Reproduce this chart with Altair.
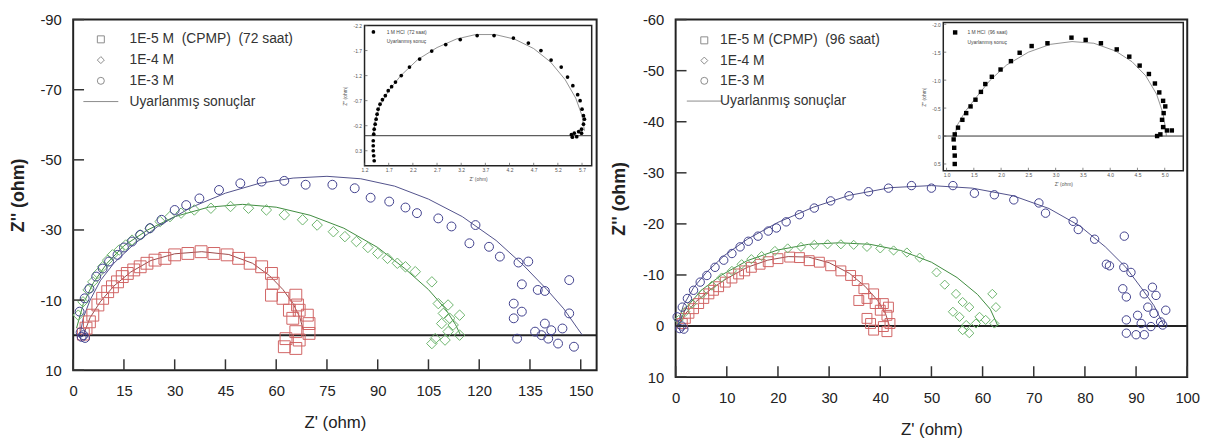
import altair as alt
import pandas as pd

FONT = "Liberation Sans"
INK = "#222222"
FIT_LABEL = "Uyarlanmış sonuçlar"
INSET_FIT_LABEL = "Uyarlanmış sonuç"

# ====================== LEFT PANEL (72 saat) ======================
L_LABELS = ["1E-5 M\u00a0 (CPMP)\u00a0 (72 saat)", "1E-4 M", "1E-3 M"]
L_X_TICKS = [0, 15, 30, 45, 60, 75, 90, 105, 120, 135, 150]
L_Y_TICKS = [-90, -70, -50, -30, -10, 10]

L_sq_x = [3.0, 3.8, 4.8, 5.8, 7.3, 8.7, 10.2, 11.6, 13.1, 14.5, 16.0, 17.9, 19.8, 21.8, 24.2, 27.1,
          30.0, 33.9, 37.8, 41.6, 45.5, 48.9, 52.3, 55.7, 58.6, 59.1, 58.6, 62.0, 65.8, 66.3, 66.8,
          69.2, 69.7, 69.7, 65.8, 62.9, 62.4, 65.8, 66.8, 64.9, 63.9]
L_sq_y = [-0.3, -2.0, -3.8, -5.7, -8.6, -10.5, -12.4, -13.8, -15.2, -16.7, -17.6, -18.6, -19.5, -20.5,
          -21.4, -21.9, -22.9, -23.3, -23.8, -23.3, -22.9, -21.9, -20.5, -19.5, -17.6, -14.8, -11.4,
          -10.5, -11.4, -8.6, -7.1, -5.7, -3.3, -0.5, -1.0, 1.0, 3.3, 3.8, 1.4, -4.8, -7.1]

L_dm_x = [1.5, 2.9, 4.4, 5.8, 7.3, 8.7, 10.2, 11.6, 13.6, 15.5, 17.4, 19.8, 22.7, 25.7, 28.6, 31.9,
          35.8, 40.7, 46.5, 51.8, 57.1, 62.4, 67.8, 72.1, 76.9, 80.3, 83.7, 87.1, 90.0, 92.9, 95.8,
          98.2, 101.1, 106.0, 107.9, 110.8, 109.4, 111.3, 114.2, 108.9, 112.3, 114.2, 107.0, 109.9,
          106.0, 110.8]
L_dm_y = [-5.7, -9.5, -12.9, -15.2, -17.6, -19.5, -21.4, -22.9, -24.3, -25.7, -27.1, -28.6, -30.5,
          -32.4, -33.8, -34.8, -35.7, -36.2, -36.7, -36.2, -35.7, -34.3, -32.9, -31.4, -29.5, -28.1,
          -26.7, -25.0, -23.3, -21.9, -20.5, -19.5, -18.1, -15.2, -9.0, -8.6, -6.2, -4.8, -5.7, -3.3,
          -2.9, 0.0, 1.0, 1.4, 2.4, -1.0]

L_ci_x = [2.5, 3.0, 3.5, 2.2, 1.9, 3.4, 4.8, 6.8, 8.7, 10.6, 13.1, 15.0, 17.4, 19.8, 22.7, 26.1, 30.0,
          33.4, 37.3, 43.1, 49.4, 55.7, 62.4, 68.7, 76.6, 83.2, 87.9, 93.4, 98.2, 101.6, 107.9, 111.8,
          118.9, 117.1, 122.9, 126.1, 131.6, 134.5, 132.6, 137.3, 139.4, 146.6, 130.2, 132.6, 130.2,
          146.6, 139.4, 144.6, 136.5, 131.2, 140.4, 143.3, 148.0, 141.3, 138.4]
L_ci_y = [0.5, 0.0, 0.8, -0.8, -6.7, -10.5, -13.3, -16.7, -19.0, -21.0, -22.9, -25.0, -26.7, -28.6,
          -30.5, -32.9, -35.7, -37.1, -39.0, -41.4, -43.3, -43.8, -44.0, -42.9, -42.9, -41.9, -39.2,
          -38.1, -36.4, -34.8, -33.3, -31.0, -31.4, -26.2, -25.2, -22.4, -20.7, -21.0, -14.5, -12.9,
          -12.6, -15.7, -9.0, -6.7, -4.8, -6.2, -3.3, -1.9, -1.0, 1.0, 1.0, 2.4, 3.3, -1.4, 0.0]

L_fit_sq_x = [3, 5, 8, 12, 17, 23, 30, 38, 46, 53, 58, 62, 65, 67, 68]
L_fit_sq_y = [0, -5, -9.5, -14, -18, -21.3, -23.2, -23.8, -23, -20.5, -17, -13, -9, -5, -1.5]
L_fit_dm_x = [1, 3, 6, 10, 15, 22, 30, 40, 50, 60, 70, 80, 90, 98, 105, 110, 113, 114.5]
L_fit_dm_y = [-2, -9, -15, -20.5, -25.5, -30, -33.8, -36.5, -37.3, -36.5, -34.2, -30.5, -25, -19,
              -13, -7.5, -3, 0]
L_fit_ci_x = [2, 3, 5, 8, 12, 18, 25, 35, 45, 55, 65, 75, 85, 95, 105, 115, 125, 133, 140, 145, 149,
              150.5]
L_fit_ci_y = [0, -5, -10, -15.5, -20.5, -26, -31, -36.5, -40.5, -43.3, -44.8, -45.3, -44.6, -42.5,
              -38.8, -33.8, -27, -20, -13, -7.5, -2, 0]

L_IN_LABELS = ["1 M HCl\u00a0 (72 saat)", INSET_FIT_LABEL]
L_IN_X_TICKS = [1.2, 1.7, 2.2, 2.7, 3.2, 3.7, 4.2, 4.7, 5.2, 5.7]
L_IN_Y_TICKS = [-2.2, -1.7, -1.2, -0.7, -0.2, 0.3]
L_in_x = [1.40, 1.39, 1.38, 1.38, 1.38, 1.39, 1.40, 1.42, 1.44, 1.46, 1.48, 1.52, 1.57, 1.63, 1.69,
          1.76, 1.84, 1.96, 2.13, 2.34, 2.59, 2.88, 3.18, 3.53, 3.88, 4.28, 4.59, 4.85, 5.06, 5.27,
          5.40, 5.51, 5.61, 5.66, 5.70, 5.73, 5.75, 5.73, 5.69, 5.63, 5.54, 5.48, 5.50, 5.59, 5.69]
L_in_y = [0.50, 0.40, 0.30, 0.20, 0.10, -0.03, -0.13, -0.23, -0.33, -0.43, -0.53, -0.63, -0.72,
          -0.80, -0.90, -0.98, -1.07, -1.20, -1.37, -1.53, -1.69, -1.82, -1.92, -2.00, -2.00, -1.95,
          -1.85, -1.70, -1.51, -1.37, -1.17, -1.00, -0.82, -0.70, -0.53, -0.40, -0.33, -0.23, -0.13,
          -0.08, -0.05, -0.02, 0.03, 0.02, -0.05]
L_in_fit_x = [1.38, 1.42, 1.52, 1.70, 1.95, 2.30, 2.70, 3.10, 3.50, 3.90, 4.30, 4.70, 5.05, 5.35,
              5.57, 5.70, 5.75]
L_in_fit_y = [0.0, -0.3, -0.6, -0.9, -1.2, -1.52, -1.76, -1.93, -2.02, -2.02, -1.93, -1.74, -1.47,
              -1.12, -0.75, -0.4, -0.1]

# ====================== RIGHT PANEL (96 saat) ======================
R_LABELS = ["1E-5 M (CPMP)\u00a0 (96 saat)", "1E-4 M", "1E-3 M"]
R_X_TICKS = [0, 10, 20, 30, 40, 50, 60, 70, 80, 90, 100]
R_Y_TICKS = [-60, -50, -40, -30, -20, -10, 0, 10]

R_sq_x = [1.3, 1.9, 2.6, 3.5, 4.5, 5.5, 6.5, 7.4, 8.4, 9.7, 11.0, 12.3, 13.5, 14.8, 16.5, 18.1, 20.0,
          22.3, 24.2, 26.1, 28.1, 30.3, 32.3, 34.2, 35.5, 36.8, 35.8, 37.4, 38.7, 39.0, 40.6, 40.0,
          41.6, 41.3, 41.9, 40.6, 38.7, 38.1, 41.3, 37.4]
R_sq_y = [-0.5, -1.5, -2.5, -3.4, -4.4, -5.4, -6.3, -7.0, -7.7, -8.6, -9.4, -10.2, -10.8, -11.5,
          -12.1, -12.6, -13.2, -13.5, -13.4, -12.8, -12.5, -11.8, -10.8, -9.9, -8.9, -7.3, -5.0, -5.4,
          -6.3, -4.4, -4.4, -3.1, -3.7, -2.1, -0.5, 0.1, 0.8, -0.5, 1.1, -1.5]

R_dm_x = [0.6, 1.9, 3.2, 5.2, 7.1, 9.0, 11.0, 12.9, 14.8, 16.8, 19.4, 21.9, 24.5, 27.1, 29.7, 32.3,
          34.8, 37.4, 40.0, 42.6, 45.2, 47.7, 51.0, 52.6, 54.8, 56.1, 54.2, 57.4, 55.5, 56.8, 57.4,
          59.4, 61.9, 62.6, 60.6, 58.7, 62.3, 56.1]
R_dm_y = [-1.2, -2.8, -4.4, -6.3, -7.9, -9.5, -10.8, -12.1, -13.1, -13.7, -14.7, -15.2, -15.5, -15.9,
          -16.0, -16.0, -15.9, -15.5, -15.2, -14.8, -14.4, -13.4, -10.5, -8.1, -6.3, -4.7, -2.8, -3.7,
          -1.8, -0.2, 1.4, -1.8, -6.3, -3.7, -1.2, -0.5, -0.5, 0.8]

R_ci_x = [0.8, 1.2, 1.6, 0.3, 1.3, 2.3, 3.5, 4.8, 6.1, 7.7, 9.4, 11.0, 12.6, 14.2, 16.1, 18.1, 19.7,
          21.6, 24.2, 27.1, 30.3, 33.9, 37.7, 41.6, 46.1, 50.0, 54.2, 58.4, 62.3, 66.1, 71.0, 72.3,
          77.7, 78.7, 81.9, 87.7, 84.2, 84.8, 87.6, 89.0, 87.4, 88.1, 91.6, 93.2, 93.9, 95.8, 92.3,
          90.3, 88.1, 91.0, 93.5, 95.2, 88.1, 90.0, 91.6, 92.9, 94.8]
R_ci_y = [0.5, 0.0, 0.6, -1.8, -3.7, -5.4, -7.0, -8.6, -9.9, -11.5, -12.9, -14.2, -15.5, -16.6,
          -17.6, -18.6, -19.2, -20.4, -21.8, -23.1, -24.5, -25.5, -26.3, -27.0, -27.5, -27.0, -27.5,
          -26.0, -25.7, -24.7, -24.1, -22.1, -20.5, -18.9, -17.0, -17.6, -12.1, -11.8, -11.5, -10.5,
          -7.3, -5.7, -6.3, -7.6, -6.0, -3.1, -3.7, -2.1, -1.2, -0.5, -2.5, -0.2, 1.4, 1.7, 1.7, 0.1,
          -0.8]

R_fit_sq_x = [0.5, 2, 4, 7, 10, 14, 18, 22, 26, 30, 34, 37, 39.5, 41, 41.8]
R_fit_sq_y = [0, -2.5, -4.8, -7.3, -9.3, -11.5, -12.9, -13.6, -13.5, -12.4, -10.3, -7.8, -5, -2.5, 0]
R_fit_dm_x = [0.5, 2, 5, 9, 14, 20, 26, 32, 38, 44, 50, 55, 59, 61.5, 63]
R_fit_dm_y = [0, -3.5, -7, -10, -12.8, -14.9, -16, -16.3, -16, -14.8, -12.5, -9.5, -6.2, -3.3, 0]
R_fit_ci_x = [0.3, 1.5, 3.5, 6, 9.5, 14, 20, 27, 34, 42, 50, 58, 66, 73, 79, 84, 88, 91, 93.5, 95.5]
R_fit_ci_y = [0, -4, -7.5, -10.5, -13.8, -17, -20.3, -23.3, -25.6, -27.1, -27.5, -27, -25.5, -23,
              -19.6, -15.5, -11.5, -7.5, -4, 0]

R_IN_LABELS = ["1 M HCl\u00a0 (96 saat)", INSET_FIT_LABEL]
R_IN_X_TICKS = [1.0, 1.5, 2.0, 2.5, 3.0, 3.5, 4.0, 4.5, 5.0]
R_IN_Y_TICKS = [-2.0, -1.5, -1.0, -0.5, 0.0, 0.5]
R_in_x = [1.15, 1.15, 1.14, 1.13, 1.15, 1.21, 1.29, 1.36, 1.44, 1.53, 1.63, 1.71, 1.83, 1.99, 2.18,
          2.34, 2.56, 2.85, 3.29, 3.55, 3.83, 4.12, 4.35, 4.54, 4.71, 4.82, 4.90, 4.97, 5.01, 4.98,
          4.95, 4.97, 5.04, 5.13, 4.92, 4.86]
R_in_y = [0.50, 0.35, 0.21, 0.06, -0.03, -0.15, -0.29, -0.41, -0.53, -0.65, -0.79, -0.93, -1.06,
          -1.19, -1.34, -1.49, -1.61, -1.66, -1.76, -1.72, -1.66, -1.55, -1.42, -1.26, -1.11, -0.94,
          -0.78, -0.63, -0.53, -0.41, -0.29, -0.16, -0.10, -0.10, -0.03, 0.00]
R_in_fit_x = [1.15, 1.20, 1.35, 1.55, 1.80, 2.10, 2.50, 2.90, 3.30, 3.70, 4.10, 4.40, 4.65, 4.85,
              4.97, 5.02, 5.03]
R_in_fit_y = [0.0, -0.2, -0.45, -0.7, -1.0, -1.27, -1.5, -1.64, -1.69, -1.66, -1.52, -1.33, -1.08,
              -0.75, -0.4, -0.1, 0.0]

PT_COLORS = ["#d06464", "#6cb46c", "#3f3f8c"]
FIT_COLORS = ["#9a4848", "#3d8a3d", "#50508a"]

MAIN_LABEL_EXPR = "'' + datum.value"
INSET_LABEL_EXPR = "datum.value == 0 ? '0' : replace(format(datum.value, '.1f'), '\u2212', '-')"
TICK_COLOR = "#333333"
TICK_LEN = 11
IN_TICK_LEN = 3


def points_df(labels, series):
    rows = []
    for lab, (xs, ys) in zip(labels, series):
        for x, y in zip(xs, ys):
            rows.append({"x": x, "y": y, "grp": lab, "shp": lab})
    return pd.DataFrame(rows)


def lines_df(labels, series):
    rows = []
    for lab, (xs, ys) in zip(labels, series):
        for i, (x, y) in enumerate(zip(xs, ys)):
            rows.append({"x": x, "y": y, "grp": lab, "i": i})
    return pd.DataFrame(rows)


def make_panel(c):
    W, H = c["W"], c["H"]

    def xs():
        return alt.Scale(domain=c["xdom"], range=[0, W], nice=False, zero=False)

    def ys():
        return alt.Scale(domain=c["ydom"], range=[0, H], nice=False, zero=False)

    xaxis = alt.Axis(orient="top", offset=-H, values=c["xticks"], ticks=False,
                     labelPadding=-14, labelBaseline="top", labelAlign="center",
                     labelFontSize=15, labelColor=INK, labelFont=FONT, labelFlush=False,
                     labelExpr=MAIN_LABEL_EXPR, zindex=1,
                     labelOverlap=False, domain=False, grid=False, title="Z' (ohm)",
                     titleFont=FONT, titleFontSize=17, titleFontWeight="normal", titleColor=INK,
                     titleY=53, titleBaseline="middle", titleAlign="center")
    yaxis = alt.Axis(orient="right", offset=-W, values=c["yticks"], ticks=False,
                     labelPadding=-12, labelAlign="right", labelBaseline="middle",
                     labelFontSize=15, labelColor=INK, labelFont=FONT, labelFlush=False,
                     labelExpr=MAIN_LABEL_EXPR, zindex=1,
                     labelOverlap=False, domain=False, grid=False, title="Z'' (ohm)",
                     titleFont=FONT, titleFontSize=18, titleFontWeight="bold", titleColor=INK,
                     titleAngle=270, titleX=c["ytitleX"], titleY=H / 2, titleAlign="center",
                     titleBaseline="middle")
    labels = c["labels"]
    pts = points_df(labels, c["pts"])
    fits = lines_df(labels, c["fits"])

    # inward tick marks, placed with the panel's own scales
    xtick_marks = alt.Chart(pd.DataFrame({"t": c["xticks"]})).mark_rule(
        color=TICK_COLOR, strokeWidth=1.5, opacity=1).encode(
        x=alt.X("t:Q", scale=xs(), axis=None), y=alt.value(H), y2=alt.value(H - TICK_LEN))
    ytick_marks = alt.Chart(pd.DataFrame({"t": c["yticks"]})).mark_rule(
        color=TICK_COLOR, strokeWidth=1.5, opacity=1).encode(
        y=alt.Y("t:Q", scale=ys(), axis=None), x=alt.value(0), x2=alt.value(TICK_LEN))

    zero = alt.Chart(pd.DataFrame({"y": [0]})).mark_rule(color=INK, strokeWidth=2).encode(
        y=alt.Y("y:Q", scale=ys(), axis=None))
    lines = alt.Chart(fits).mark_line(strokeWidth=1).encode(
        x=alt.X("x:Q", scale=xs(), axis=None),
        y=alt.Y("y:Q", scale=ys(), axis=None),
        stroke=alt.Stroke("grp:N", scale=alt.Scale(domain=labels, range=FIT_COLORS), legend=None),
        order="i:Q")
    sym_legend = alt.Legend(
        orient="none", legendX=c["legX"], legendY=c["legY"], title=None, padding=0,
        labelFont=FONT, labelFontSize=14, labelColor="#333333", labelOffset=c["labOff"],
        symbolSize=50, symbolStrokeWidth=1, symbolFillColor="transparent",
        symbolStrokeColor="#8a8a8a", rowPadding=c["rowPad"], labelLimit=400)
    points = alt.Chart(pts).mark_point(filled=False, strokeWidth=1, opacity=1).encode(
        x=alt.X("x:Q", scale=xs(), axis=xaxis),
        y=alt.Y("y:Q", scale=ys(), axis=yaxis),
        color=alt.Color("grp:N", scale=alt.Scale(domain=labels, range=PT_COLORS), legend=None),
        size=alt.Size("grp:N", scale=alt.Scale(domain=labels, range=c["sizes"]), legend=None),
        shape=alt.Shape("shp:N", scale=alt.Scale(
            domain=labels + [FIT_LABEL], range=["square", "diamond", "circle", "M-5,0H5"]),
            legend=sym_legend))

    # ---------------- inset ----------------
    ix0, ix1 = c["in_xdom"]
    iy0, iy1 = c["in_ydom"]
    ibottom = c["in_yrange"][1]
    ileft = c["in_xrange"][0]

    def ixs():
        return alt.Scale(domain=c["in_xdom"], range=c["in_xrange"], nice=False, zero=False)

    def iys():
        return alt.Scale(domain=c["in_ydom"], range=c["in_yrange"], nice=False, zero=False)

    ixaxis = alt.Axis(orient="top", offset=-ibottom, values=c["in_xticks"], ticks=False,
                      labelPadding=-2, labelBaseline="top",
                      labelAlign="center", labelFontSize=5, labelColor="#555555", labelFont=FONT,
                      labelExpr=INSET_LABEL_EXPR, labelFlush=False, labelOverlap=False,
                      domain=False, grid=False, title="Z' (ohm)", titleFont=FONT, titleFontSize=5,
                      titleFontWeight="normal", titleColor="#555555", titleY=13,
                      titleBaseline="middle", zindex=2)
    iyaxis = alt.Axis(orient="right", offset=ileft - W, values=c["in_yticks"],
                      ticks=False, labelPadding=-3,
                      labelAlign="right", labelBaseline="middle", labelFontSize=5,
                      labelColor="#555555", labelFont=FONT, labelExpr=INSET_LABEL_EXPR,
                      labelFlush=False, labelOverlap=False, domain=False, grid=False,
                      title="Z'' (ohm)", titleFont=FONT, titleFontSize=5,
                      titleFontWeight="normal", titleColor="#555555", titleAngle=270, titleX=-20,
                      titleY=(c["in_yrange"][0] + c["in_yrange"][1]) / 2,
                      titleAlign="center", titleBaseline="middle", zindex=2)
    box = alt.Chart(pd.DataFrame({"x": [ix0], "x2": [ix1], "y": [iy0], "y2": [iy1]})).mark_rect(
        fill="white", stroke=INK, strokeWidth=1.5).encode(
        x=alt.X("x:Q", scale=ixs(), axis=ixaxis), x2="x2",
        y=alt.Y("y:Q", scale=iys(), axis=iyaxis), y2="y2")
    ixtick_marks = alt.Chart(pd.DataFrame({"t": c["in_xticks"]})).mark_rule(
        color="#555555", strokeWidth=0.7).encode(
        x=alt.X("t:Q", scale=ixs(), axis=None), y=alt.value(ibottom),
        y2=alt.value(ibottom - IN_TICK_LEN))
    iytick_marks = alt.Chart(pd.DataFrame({"t": c["in_yticks"]})).mark_rule(
        color="#555555", strokeWidth=0.7).encode(
        y=alt.Y("t:Q", scale=iys(), axis=None), x=alt.value(ileft),
        x2=alt.value(ileft + IN_TICK_LEN))
    izero = alt.Chart(pd.DataFrame({"x": [ix0], "x2": [ix1], "y": [0]})).mark_rule(
        color="#333333", strokeWidth=1).encode(
        x=alt.X("x:Q", scale=ixs(), axis=None), x2="x2", y=alt.Y("y:Q", scale=iys(), axis=None))
    in_fit = pd.DataFrame({"x": c["in_fit"][0], "y": c["in_fit"][1],
                           "i": list(range(len(c["in_fit"][0])))})
    iline = alt.Chart(in_fit).mark_line(color="#777777", strokeWidth=0.8).encode(
        x=alt.X("x:Q", scale=ixs(), axis=None), y=alt.Y("y:Q", scale=iys(), axis=None),
        order="i:Q")
    in_pts = pd.DataFrame({"x": c["in_pts"][0], "y": c["in_pts"][1],
                           "shp": c["in_labels"][0]})
    in_legend = alt.Legend(
        orient="none", legendX=c["ilegX"], legendY=c["ilegY"], title=None, padding=0,
        labelFont=FONT, labelFontSize=5, labelColor="#444444", labelOffset=c["ilabOff"],
        symbolSize=c["in_size"], symbolStrokeWidth=0.8, symbolFillColor="black",
        symbolStrokeColor="black", rowPadding=3, labelLimit=200)
    ipoints = alt.Chart(in_pts).mark_point(filled=True, color="black", opacity=1,
                                           size=c["in_size"]).encode(
        x=alt.X("x:Q", scale=ixs(), axis=None), y=alt.Y("y:Q", scale=iys(), axis=None),
        shape=alt.Shape("shp:N", scale=alt.Scale(domain=c["in_labels"],
                                                 range=[c["in_shape"], c["in_line"]]),
                        legend=in_legend))

    return alt.layer(zero, lines, points, xtick_marks, ytick_marks, box, ixtick_marks,
                     iytick_marks, izero, iline, ipoints).resolve_scale(
        x="independent", y="independent", shape="independent").properties(width=W, height=H)


left = make_panel(dict(
    W=530, H=355, xdom=[0, 154.7], ydom=[-90, 10], xticks=L_X_TICKS, yticks=L_Y_TICKS,
    ytitleX=-55, labels=L_LABELS,
    pts=[(L_sq_x, L_sq_y), (L_dm_x, L_dm_y), (L_ci_x, L_ci_y)],
    fits=[(L_fit_sq_x, L_fit_sq_y), (L_fit_dm_x, L_fit_dm_y), (L_fit_ci_x, L_fit_ci_y)],
    sizes=[144, 81, 121], legX=21, legY=13, labOff=22, rowPad=7,
    in_xdom=[1.2, 5.9], in_ydom=[-2.2, 0.6], in_xrange=[295, 525], in_yrange=[6, 148],
    in_xticks=L_IN_X_TICKS, in_yticks=L_IN_Y_TICKS, in_labels=L_IN_LABELS,
    in_pts=(L_in_x, L_in_y), in_fit=(L_in_fit_x, L_in_fit_y), in_size=14, in_shape="circle",
    in_line="M-3.6,0H3.6", ilegX=301.5, ilegY=10, ilabOff=11))

right = make_panel(dict(
    W=518, H=362, xdom=[0, 100], ydom=[-60, 10], xticks=R_X_TICKS, yticks=R_Y_TICKS,
    ytitleX=-57, labels=R_LABELS,
    pts=[(R_sq_x, R_sq_y), (R_dm_x, R_dm_y), (R_ci_x, R_ci_y)],
    fits=[(R_fit_sq_x, R_fit_sq_y), (R_fit_dm_x, R_fit_dm_y), (R_fit_ci_x, R_fit_ci_y)],
    sizes=[100, 72, 121], legX=22, legY=14, labOff=9, rowPad=6.5,
    in_xdom=[0.94, 5.34], in_ydom=[-2.03, 0.62], in_xrange=[271, 514], in_yrange=[3, 153],
    in_xticks=R_IN_X_TICKS, in_yticks=R_IN_Y_TICKS, in_labels=R_IN_LABELS,
    in_pts=(R_in_x, R_in_y), in_fit=(R_in_fit_x, R_in_fit_y), in_size=20, in_shape="square",
    in_line="M-3.7,0H3.7", ilegX=280, ilegY=10, ilabOff=9.5))

chart = alt.hconcat(left, right, spacing=11).resolve_scale(
    x="independent", y="independent", color="independent", shape="independent",
    size="independent", stroke="independent").properties(
    padding={"left": 1, "top": 1, "right": 5, "bottom": 5}, background="white"
).configure_view(stroke=INK, strokeWidth=2)

chart.save("out.html", embed_options={"renderer": "svg", "actions": False})
